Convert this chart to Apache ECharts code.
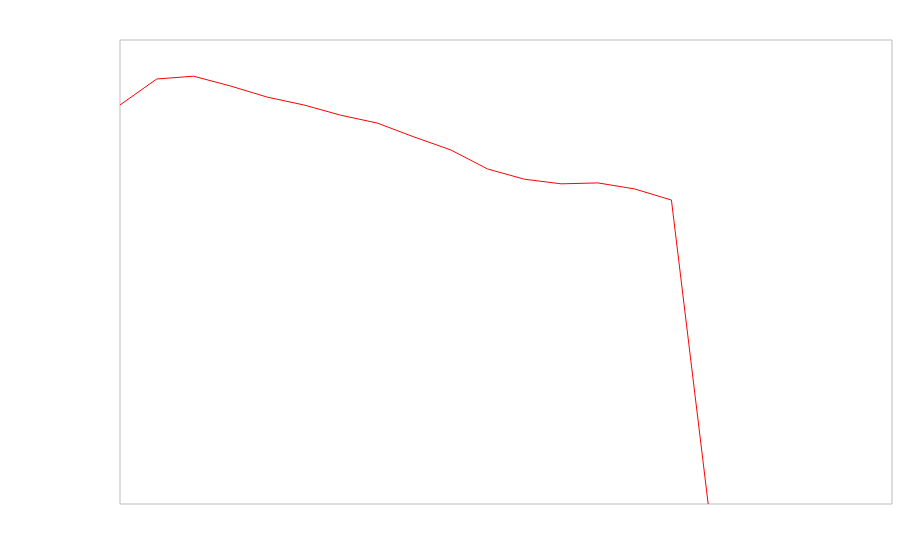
<!DOCTYPE html>
<html>
<head>
<meta charset="utf-8">
<script src="https://cdn.jsdelivr.net/npm/echarts@6/dist/echarts.min.js"></script>
<style>html,body{margin:0;padding:0;background:#fff;}#c{width:900px;height:560px;}</style>
</head>
<body>
<div id="c"></div>
<script>
var categories = ['0','1','2','3','4','5','6','7','8','9','10','11','12','13','14','15','16','17','18','19','20','21'];
var values = [86.0, 91.6, 92.2, 90.1, 87.7, 86.0, 83.8, 82.1, 79.1, 76.3, 72.2, 70.0, 69.0, 69.2, 67.9, 65.5, 0];

var chart = echarts.init(document.getElementById('c'), null, {renderer: 'canvas'});
chart.setOption({
  animation: false,
  backgroundColor: '#ffffff',
  grid: {left: 120, top: 40, right: 8, bottom: 56, show: true, borderColor: '#bbbbbb', borderWidth: 1, backgroundColor: 'transparent'},
  xAxis: {type: 'category', data: categories, boundaryGap: false, show: false},
  yAxis: {type: 'value', min: 0, max: 100, show: false},
  series: [{
    type: 'line',
    data: values,
    showSymbol: false,
    symbol: 'none',
    lineStyle: {color: '#ff0000', width: 1},
    itemStyle: {color: '#ff0000'}
  }]
});
</script>
</body>
</html>
